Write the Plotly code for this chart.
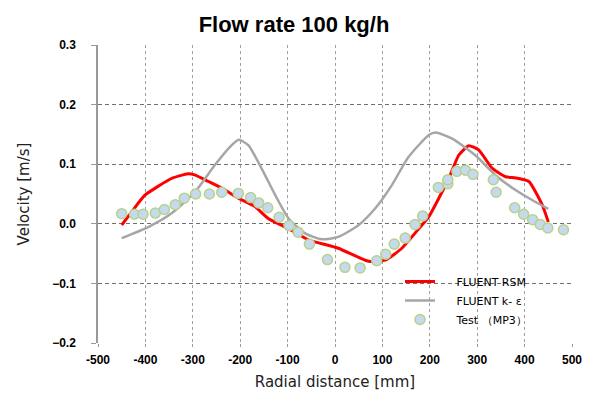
import plotly.graph_objects as go

# FLUENT RSM (red)
rsm_x = [-450, -429, -401, -345, -310, -296, -267, -239, -204, -169, -141, -98, -56, 7, 71, 106, 141, 177, 198, 240, 261, 282, 303, 332, 360, 381, 409, 437, 450]
rsm_y = [-0.002, 0.020, 0.048, 0.076, 0.084, 0.082, 0.071, 0.060, 0.043, 0.029, 0.009, -0.008, -0.027, -0.041, -0.063, -0.061, -0.041, -0.008, 0.012, 0.076, 0.115, 0.131, 0.124, 0.093, 0.079, 0.077, 0.071, 0.032, 0.003]

# FLUENT k-epsilon (grey)
ke_x = [-450, -393, -344, -295, -253, -218, -203, -183, -155, -126, -98, -63, -28, 7, 50, 85, 120, 155, 198, 212, 247, 296, 338, 380, 422, 450]
ke_y = [-0.024, -0.005, 0.018, 0.054, 0.099, 0.132, 0.141, 0.132, 0.093, 0.048, 0.009, -0.016, -0.026, -0.022, -0.002, 0.026, 0.065, 0.112, 0.149, 0.153, 0.143, 0.115, 0.082, 0.057, 0.037, 0.025]

# Test (MP3) points
test_x = [-450, -423, -405, -379, -360, -337, -318, -294, -265, -239, -204, -178, -161, -142, -118, -97, -78, -54, -16, 21, 53, 88, 107, 125, 148, 169, 185, 218, 238, 238, 257, 275, 291, 334, 340, 379, 398, 417, 433, 449, 482, 501]
test_y = [0.017, 0.016, 0.016, 0.018, 0.024, 0.032, 0.043, 0.050, 0.050, 0.053, 0.051, 0.044, 0.035, 0.027, 0.011, -0.003, -0.014, -0.034, -0.060, -0.073, -0.074, -0.062, -0.051, -0.034, -0.024, -0.001, 0.013, 0.061, 0.067, 0.074, 0.088, 0.090, 0.083, 0.074, 0.053, 0.027, 0.016, 0.007, -0.001, -0.007, -0.010, -0.010]

x_ticks = [-500, -400, -300, -200, -100, 0, 100, 200, 300, 400, 500]
y_ticks = [-0.2, -0.1, 0.0, 0.1, 0.2, 0.3]

PAD = "\u2002\u2002\u2002"

fig = go.Figure()
fig.add_trace(go.Scatter(x=rsm_x, y=rsm_y, mode="lines", name=PAD + "FLUENT RSM",
                         line=dict(color="#ff0000", width=3, shape="spline", smoothing=0.5)))
fig.add_trace(go.Scatter(x=ke_x, y=ke_y, mode="lines", name=PAD + "FLUENT k- ε",
                         line=dict(color="#a6a6a6", width=2.5, shape="spline", smoothing=0.6)))
fig.add_trace(go.Scatter(x=test_x, y=test_y, mode="markers", name=PAD + "Test （MP3）",
                         marker=dict(size=10, color="#c6d9f1", line=dict(color="#b5d38a", width=1.5)),
                         cliponaxis=False))

fig.update_layout(
    width=590, height=394,
    margin=dict(l=90, r=26, t=37, b=59),
    paper_bgcolor="white", plot_bgcolor="white",
    title=dict(text="<b>Flow rate 100 kg/h</b>", x=286 / 590, xanchor="center",
               y=1 - 16 / 394, yanchor="middle",
               font=dict(family="Liberation Sans, Arial", size=22, color="black")),
    showlegend=True,
    legend=dict(x=(392 - 90) / 474, y=(335 - 259) / 298, xanchor="left", yanchor="top",
                bgcolor="rgba(0,0,0,0)", borderwidth=0,
                font=dict(family="DejaVu Sans, Liberation Sans", size=11, color="black"),
                tracegroupgap=0, itemwidth=30),
    xaxis=dict(range=[-500, 500], tickvals=x_ticks, ticktext=[str(v) for v in x_ticks],
               showgrid=True, gridcolor="#a0a0a0", griddash="3px,3px", gridwidth=1,
               zeroline=False, showline=False, ticks="outside", ticklen=3, tickcolor="#999",
               tickfont=dict(family="Liberation Sans, Arial", size=12, color="black", weight="bold"),
               ticklabelstandoff=3,
               title=dict(text="Radial distance [mm]", standoff=10,
                          font=dict(family="DejaVu Sans, Liberation Sans", size=15, color="#222"))),
    yaxis=dict(range=[-0.2, 0.3], tickvals=y_ticks, tickformat=".1f",
               showgrid=True, gridcolor="#707070", griddash="4px,3px", gridwidth=1,
               zeroline=False, showline=True, linecolor="#999", linewidth=1.5,
               ticks="outside", ticklen=5, tickcolor="#999",
               tickfont=dict(family="Liberation Sans, Arial", size=12, color="black", weight="bold"),
               ticklabelstandoff=13,
               title=dict(text="Velocity [m/s]", standoff=19,
                          font=dict(family="DejaVu Sans, Liberation Sans", size=15, color="#222"))),
)

fig.write_html("out.html")
